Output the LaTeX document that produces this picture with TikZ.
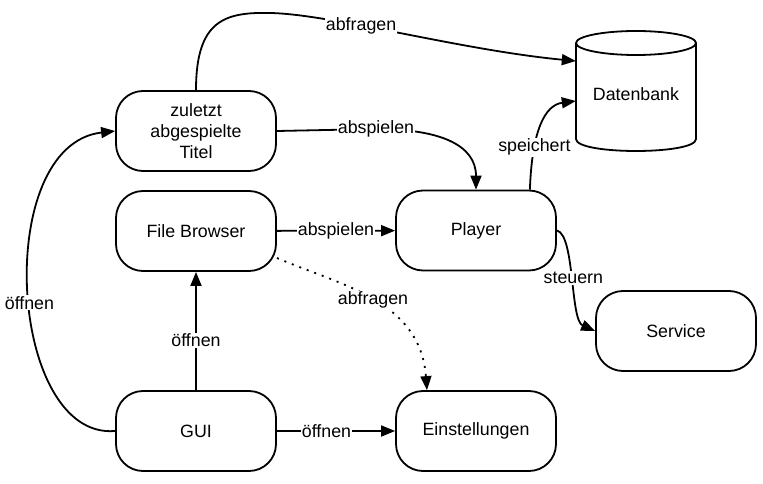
\documentclass[tikz,border=0pt]{standalone}
\usepackage{fontspec}
\setmainfont{Liberation Sans}
\usetikzlibrary{arrows.meta,calc}
\tikzset{
  box/.style={draw, line width=1.8pt, rounded corners=27pt, minimum width=160pt, minimum height=80pt, align=center, inner sep=0pt},
  lbl/.style={fill=white, inner sep=1pt},
  arr/.style={line width=1.8pt, -{Triangle[length=14pt,width=11pt]}},
  dotline/.style={dash pattern=on 2pt off 6pt},
  every node/.style={font=\fontsize{17.8}{21.3}\selectfont}
}
\begin{document}
\begin{tikzpicture}[x=1pt,y=-1pt]
\useasboundingbox (0,0) rectangle (763,484);
\fill[white] (0,0) rectangle (763,484);
% nodes
\node[box] (zt) at (196,131) {zuletzt\\abgespielte\\Titel};
\node[box] (fb) at (196,231) {File Browser};
\node[box] (gui) at (196,431) {GUI};
\node[box] (pl) at (476,230.5) {Player};
\node[box] (ei) at (476,431) {Einstellungen};
\node[box] (sv) at (676,331) {Service};
% database cylinder
\node[minimum width=120pt, minimum height=120pt, inner sep=0pt] (db) at (636,91) {};
\draw[line width=1.8pt] (576,43) -- (576,139) .. controls (576,155) and (696,155) .. (696,139) -- (696,43);
\draw[line width=1.8pt] (636,43) ellipse [x radius=60pt, y radius=12pt];
\node (dbtext) at (636,94) {Datenbank};
% connectors
\draw[arr] (zt.north) .. controls (196,20) and (225,12) .. (270,13) .. controls (330,14) and (460,50) .. node[lbl,pos=0.37]{abfragen} ($(db.west)+(0,-30)$);
\draw[arr] (zt.east) -- node[lbl,pos=1]{abspielen} (376,129) .. controls (440,129) and (476,145) .. (pl.north);
\draw[arr] ([xshift=-27pt]pl.north east) .. controls (532,130) and (545,105) .. node[lbl,pos=0.28]{speichert} ($(db.west)+(0,10)$);
\draw[arr] (fb) -- node[lbl]{abspielen} (pl);
\draw[arr,dotline] ($(fb.center)+(81,27)$) .. controls (340,285) and (420,300) .. node[lbl,pos=0.5]{abfragen} ([xshift=-49pt]ei.north);
\draw[arr] (pl.east) .. controls (575,235) and (570,320) .. node[lbl]{steuern} (sv.west);
\draw[arr] (gui) -- node[lbl,pos=0.42]{öffnen} (fb);
\draw[arr] (gui) -- node[lbl,pos=0.42]{öffnen} (ei);
\draw[arr] (gui.west) .. controls (8,440) and (-8,145) .. node[lbl,pos=0.47]{öffnen} (zt.west);
\end{tikzpicture}
\end{document}
